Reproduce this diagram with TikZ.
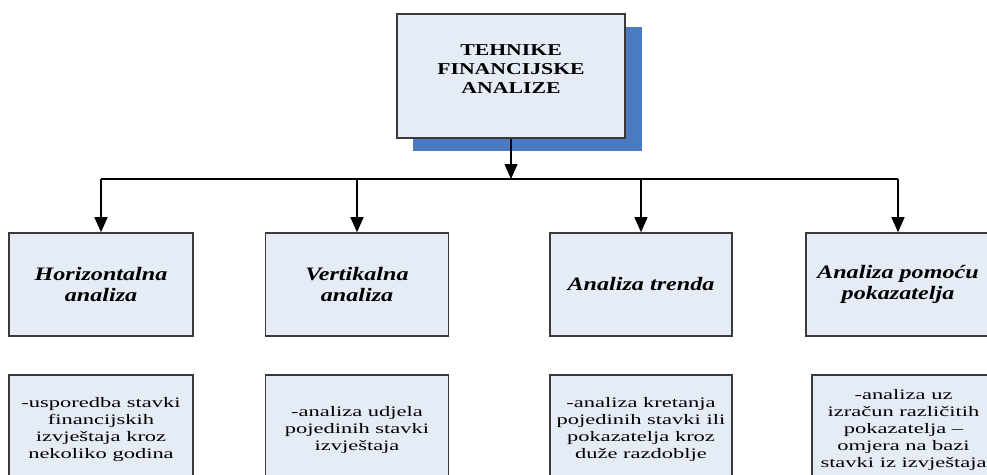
\documentclass[tikz,border=0pt]{standalone}
\usepackage{fontspec}
\setmainfont{Liberation Serif}
\newfontfamily\topfont{Liberation Serif}[FakeStretch=1.31]
\newfontfamily\midfont{Liberation Serif}[FakeStretch=1.27]
\newfontfamily\botfont{Liberation Serif}[FakeStretch=1.55]
\usetikzlibrary{arrows.meta}
\definecolor{boxfill}{HTML}{E6ECF6}
\definecolor{shadowblue}{HTML}{4A7BC0}
\definecolor{boxline}{HTML}{3A3A3A}
\begin{document}
\begin{tikzpicture}[x=1pt,y=-1pt,
  box/.style={draw=boxline, line width=1.6pt, fill=boxfill, inner sep=0pt, align=center},
  topbox/.style={box, minimum width=228pt, minimum height=124pt},
  midbox/.style={box, minimum width=183pt, minimum height=103pt,
     font=\midfont\bfseries\itshape\fontsize{19}{21.7}\selectfont},
  botbox/.style={box, minimum width=183pt, minimum height=110pt,
     font=\botfont\fontsize{14.5}{17}\selectfont},
  toptext/.style={align=center, inner sep=0pt,
     font=\topfont\bfseries\fontsize{16.6}{19}\selectfont},
  conn/.style={draw=black, line width=1.3pt},
  arr/.style={conn, -{Triangle[width=13pt,length=15pt]}}]
\useasboundingbox (0,0) rectangle (987,474);
\clip (0,0) rectangle (987,474);
% shadow of the top box
\fill[shadowblue] (413,27) rectangle (642,151);
\node[topbox] (top) at (511,76) {};
\node[toptext] (toptxt) at (511,69.5) {TEHNIKE\\FINANCIJSKE\\ANALIZE};
% second level
\node[midbox, minimum width=184pt] (h1) at (101,284.5) {Horizontalna\\analiza};
\node[midbox] (h2) at (357,284.5) {Vertikalna\\analiza};
\node[midbox, minimum width=182pt] (h3) at (641,284.5) {Analiza trenda};
\node[midbox, minimum width=184pt] (h4) at (898,284.5) {Analiza pomoću\\pokazatelja};
% third level
\node[botbox, minimum width=184pt] (b1) at (101,430) {-usporedba stavki\\financijskih\\izvještaja kroz\\nekoliko godina};
\node[botbox] (b2) at (357,430) {-analiza udjela\\pojedinih stavki\\izvještaja};
\node[botbox, minimum width=182pt] (b3) at (641,430) {-analiza kretanja\\pojedinih stavki ili\\pokazatelja kroz\\duže razdoblje};
\node[botbox] (b4) at (903.5,430) {-analiza uz\\izračun različitih\\pokazatelja –\\omjera na bazi\\stavki iz izvještaja};
% connectors
\coordinate (bus) at (511,179);
\draw[arr] (top.south) -- (bus);
\draw[conn] (h1.north |- bus) -- (h4.north |- bus);
\draw[arr] (h1.north |- bus) -- (h1.north);
\draw[arr] (h2.north |- bus) -- (h2.north);
\draw[arr] (h3.north |- bus) -- (h3.north);
\draw[arr] (h4.north |- bus) -- (h4.north);
\end{tikzpicture}
\end{document}
